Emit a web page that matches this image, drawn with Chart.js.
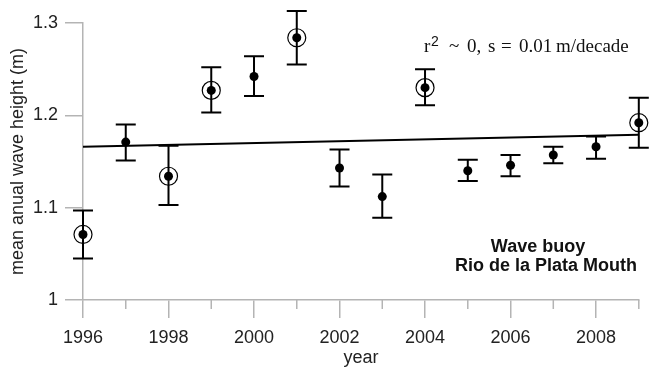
<!DOCTYPE html>
<html>
<head>
<meta charset="utf-8">
<script src="https://cdn.jsdelivr.net/npm/chart.js@4"></script>
<style>
  html, body { margin: 0; padding: 0; background: #fff; }
  #wrap { width: 649px; height: 371px; }
</style>
</head>
<body>
<div id="wrap"><canvas id="chart-canvas-elem" width="649" height="371"></canvas></div>
<script>
// mean annual wave height per year, with error bar limits
var years    = [1996, 1997, 1998, 1999, 2000, 2001, 2002, 2003, 2004, 2005, 2006, 2007, 2008, 2009];
var heights  = [1.071, 1.171, 1.134, 1.227, 1.242, 1.284, 1.143, 1.112, 1.230, 1.140, 1.146, 1.157, 1.166, 1.192];
var errHigh  = [1.097, 1.190, 1.167, 1.252, 1.264, 1.313, 1.163, 1.136, 1.250, 1.152, 1.157, 1.166, 1.177, 1.219];
var errLow   = [1.045, 1.151, 1.103, 1.203, 1.221, 1.255, 1.123, 1.089, 1.211, 1.129, 1.134, 1.148, 1.153, 1.165];
var circledYears = [1996, 1998, 1999, 2001, 2004, 2009];
var trendYears   = [1996, 2009];
var trendValues  = [1.166, 1.179];
var yTicks = [1, 1.1, 1.2, 1.3];

var axisGray = '#b4b4b4';
var labelFont = { family: 'Liberation Sans', size: 18 };

var points = years.map(function (y, i) { return { x: y, y: heights[i] }; });
var circles = [];
for (var i = 0; i < years.length; i++) {
    if (circledYears.indexOf(years[i]) >= 0) {
        circles.push({ x: years[i], y: heights[i] });
    }
}
var trend = trendYears.map(function (y, i) { return { x: y, y: trendValues[i] }; });

// error bars, short odd-year ticks and the two text notes
var extrasPlugin = {
    id: 'extras',
    beforeDatasetsDraw: function (chart) {
        var ctx = chart.ctx;
        var xs = chart.scales.x, ys = chart.scales.y;
        ctx.save();
        ctx.strokeStyle = '#000';
        ctx.lineWidth = 2;
        for (var i = 0; i < years.length; i++) {
            var px = xs.getPixelForValue(years[i]);
            var top = ys.getPixelForValue(errHigh[i]);
            var bot = ys.getPixelForValue(errLow[i]);
            ctx.beginPath();
            ctx.moveTo(px, top); ctx.lineTo(px, bot);
            ctx.moveTo(px - 10, top); ctx.lineTo(px + 10, top);
            ctx.moveTo(px - 10, bot); ctx.lineTo(px + 10, bot);
            ctx.stroke();
        }
        ctx.restore();
    },
    afterDraw: function (chart) {
        var ctx = chart.ctx;
        var xs = chart.scales.x;
        var area = chart.chartArea;
        ctx.save();
        // minor ticks on odd years
        ctx.strokeStyle = axisGray;
        ctx.lineWidth = 1.5;
        for (var yr = 1997; yr <= 2009; yr += 2) {
            var px = xs.getPixelForValue(yr);
            ctx.beginPath();
            ctx.moveTo(px, area.bottom);
            ctx.lineTo(px, area.bottom + 9);
            ctx.stroke();
        }
        // regression note, spaced out like the original
        ctx.fillStyle = '#111';
        ctx.textBaseline = 'alphabetic';
        ctx.textAlign = 'left';
        ctx.font = '19px "Liberation Serif"';
        ctx.fillText('r', 424, 52);
        ctx.font = '14px "Liberation Sans"';
        ctx.fillText('2', 431, 46);
        ctx.font = '19px "Liberation Serif"';
        var parts = [['~', 449], ['0,', 467], ['s', 488], ['=', 501], ['0.01', 519], ['m/decade', 556]];
        parts.forEach(function (p) { ctx.fillText(p[0], p[1], 52); });
        // station label
        ctx.font = 'bold 18px "Liberation Sans"';
        ctx.textAlign = 'center';
        ctx.textBaseline = 'middle';
        ctx.fillText('Wave buoy', 538, 247);
        ctx.fillText('Rio de la Plata Mouth', 546, 266);
        ctx.restore();
    }
};

const ctx_chart = document.getElementById('chart-canvas-elem').getContext('2d');
var waveChart = new Chart(ctx_chart, {
    type: 'scatter',
    data: {
        datasets: [{
            type: 'line',
            label: 'trend',
            data: trend,
            borderColor: '#000',
            borderWidth: 2,
            pointRadius: 0,
            fill: false,
            clip: false,
            order: 3
        }, {
            label: 'circled',
            data: circles,
            pointStyle: 'circle',
            pointRadius: 9,
            pointBackgroundColor: 'rgba(255,255,255,0)',
            pointBorderColor: '#000',
            pointBorderWidth: 1.2,
            clip: false,
            order: 2
        }, {
            label: 'mean',
            data: points,
            pointStyle: 'circle',
            pointRadius: 4.5,
            pointBackgroundColor: '#000',
            pointBorderColor: '#000',
            pointBorderWidth: 0,
            clip: false,
            order: 1
        }]
    },
    options: {
        responsive: false,
        animation: false,
        layout: { padding: { top: 23, right: 9, left: 0, bottom: 0 } },
        plugins: {
            legend: { display: false },
            tooltip: { enabled: false }
        },
        scales: {
            x: {
                type: 'linear',
                min: 1996,
                max: 2009,
                border: { color: axisGray, width: 1.5 },
                grid: {
                    drawOnChartArea: false,
                    tickLength: 18,
                    lineWidth: 1.5,
                    tickColor: function (c) {
                        return (c.tick && c.tick.value % 2 === 0) ? axisGray : 'rgba(0,0,0,0)';
                    }
                },
                ticks: {
                    stepSize: 1,
                    autoSkip: false,
                    maxRotation: 0,
                    padding: 9,
                    color: '#222',
                    font: labelFont,
                    callback: function (v) { return v % 2 === 0 ? String(v) : ''; }
                },
                title: {
                    display: true,
                    text: 'year',
                    color: '#222',
                    font: labelFont,
                    padding: { top: 0, bottom: 2 }
                },
                afterFit: function (scale) { scale.height = 71; }
            },
            y: {
                min: 1,
                max: 1.3,
                border: { color: axisGray, width: 1.5 },
                grid: {
                    drawOnChartArea: false,
                    tickLength: 18,
                    lineWidth: 1.5,
                    color: axisGray
                },
                afterBuildTicks: function (scale) {
                    scale.ticks = yTicks.map(function (v) { return { value: v }; });
                },
                ticks: {
                    padding: 7,
                    color: '#222',
                    font: labelFont,
                    callback: function (v) { return String(Number(v.toFixed(1))); }
                },
                title: {
                    display: true,
                    text: 'mean anual wave height (m)',
                    color: '#222',
                    font: labelFont,
                    padding: { top: 7, bottom: 0 }
                },
                afterFit: function (scale) { scale.width = 83; }
            }
        }
    },
    plugins: [extrasPlugin]
});
</script>
</body>
</html>
